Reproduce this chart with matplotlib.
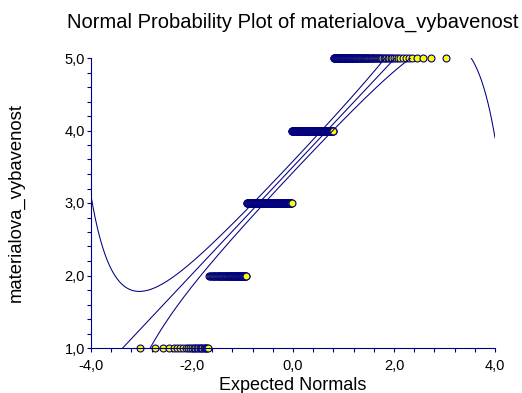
import numpy as np
import matplotlib
matplotlib.use("Agg")
import matplotlib.pyplot as plt
from matplotlib.ticker import MultipleLocator, FixedLocator, FixedFormatter
from statistics import NormalDist

plt.rcParams['font.family'] = ['Liberation Sans', 'DejaVu Sans']

# Response categories and how many observations fall in each
levels = [1, 2, 3, 4, 5]
counts = [24, 67, 160, 153, 108]

# Half-width coefficient of the confidence band around the reference line
band_coef = 0.061

x_ticks = [-4.0, -2.0, 0.0, 2.0, 4.0]
x_tick_labels = ["-4,0", "-2,0", "0,0", "2,0", "4,0"]
y_ticks = [1.0, 2.0, 3.0, 4.0, 5.0]
y_tick_labels = ["1,0", "2,0", "3,0", "4,0", "5,0"]

navy = "#000080"
nd = NormalDist()

# Sorted sample and Blom expected normal scores
values = np.repeat(levels, counts).astype(float)
n = len(values)
ranks = np.arange(1, n + 1)
expected = np.array([nd.inv_cdf((i - 0.375) / (n + 0.25)) for i in ranks])

# Reference line through the quartiles
q1, q3 = np.percentile(values, [25, 75], method="lower")
z25, z75 = nd.inv_cdf(0.25), nd.inv_cdf(0.75)
slope = (q3 - q1) / (z75 - z25)
intercept = (q1 + q3) / 2.0

zz = np.linspace(-4, 4, 801)
pp = np.array([nd.cdf(z) for z in zz])
dens = np.array([nd.pdf(z) for z in zz])
center = intercept + slope * zz
half = band_coef * np.sqrt(pp * (1 - pp)) / dens
upper = center + half
lower = center - half

fig = plt.figure(figsize=(5.22, 3.93), dpi=100)
ax = fig.add_axes([91 / 522, 45 / 393, 404 / 522, 290 / 393])

ax.plot(expected, values, linestyle="none", marker="o", markersize=5.0,
        markerfacecolor="#ffff00", markeredgecolor=navy, markeredgewidth=0.8,
        zorder=2, clip_on=False)
for curve in (center, upper, lower):
    ax.plot(zz, curve, color=navy, linewidth=0.75, zorder=3)

ax.set_xlim(-4, 4)
ax.set_ylim(1, 5)

for side in ("top", "right"):
    ax.spines[side].set_visible(False)
for side in ("left", "bottom"):
    ax.spines[side].set_color(navy)
    ax.spines[side].set_linewidth(0.8)

ax.xaxis.set_major_locator(FixedLocator(x_ticks))
ax.xaxis.set_major_formatter(FixedFormatter(x_tick_labels))
ax.yaxis.set_major_locator(FixedLocator(y_ticks))
ax.yaxis.set_major_formatter(FixedFormatter(y_tick_labels))
ax.xaxis.set_minor_locator(MultipleLocator(0.4))
ax.yaxis.set_minor_locator(MultipleLocator(0.2))
ax.tick_params(which="both", direction="out", length=3, width=0.8, color=navy)
ax.tick_params(axis="x", which="major", labelsize=10.5, pad=5)
ax.tick_params(axis="y", which="major", labelsize=10.5, pad=1.5)

ax.set_xlabel("Expected Normals", fontsize=13)
ax.xaxis.set_label_coords(0.5, -(390 - 348) / 290)
ax.xaxis.label.set_va("baseline")
ax.set_ylabel("materialova_vybavenost", fontsize=13.3)
ax.yaxis.set_label_coords(-(91 - 25) / 404, 0.5)
fig.text(292.5 / 522, 1 - 22 / 393, "Normal Probability Plot of materialova_vybavenost",
         fontsize=14.5, ha="center", va="center")

fig.savefig("out.png", dpi=100)
